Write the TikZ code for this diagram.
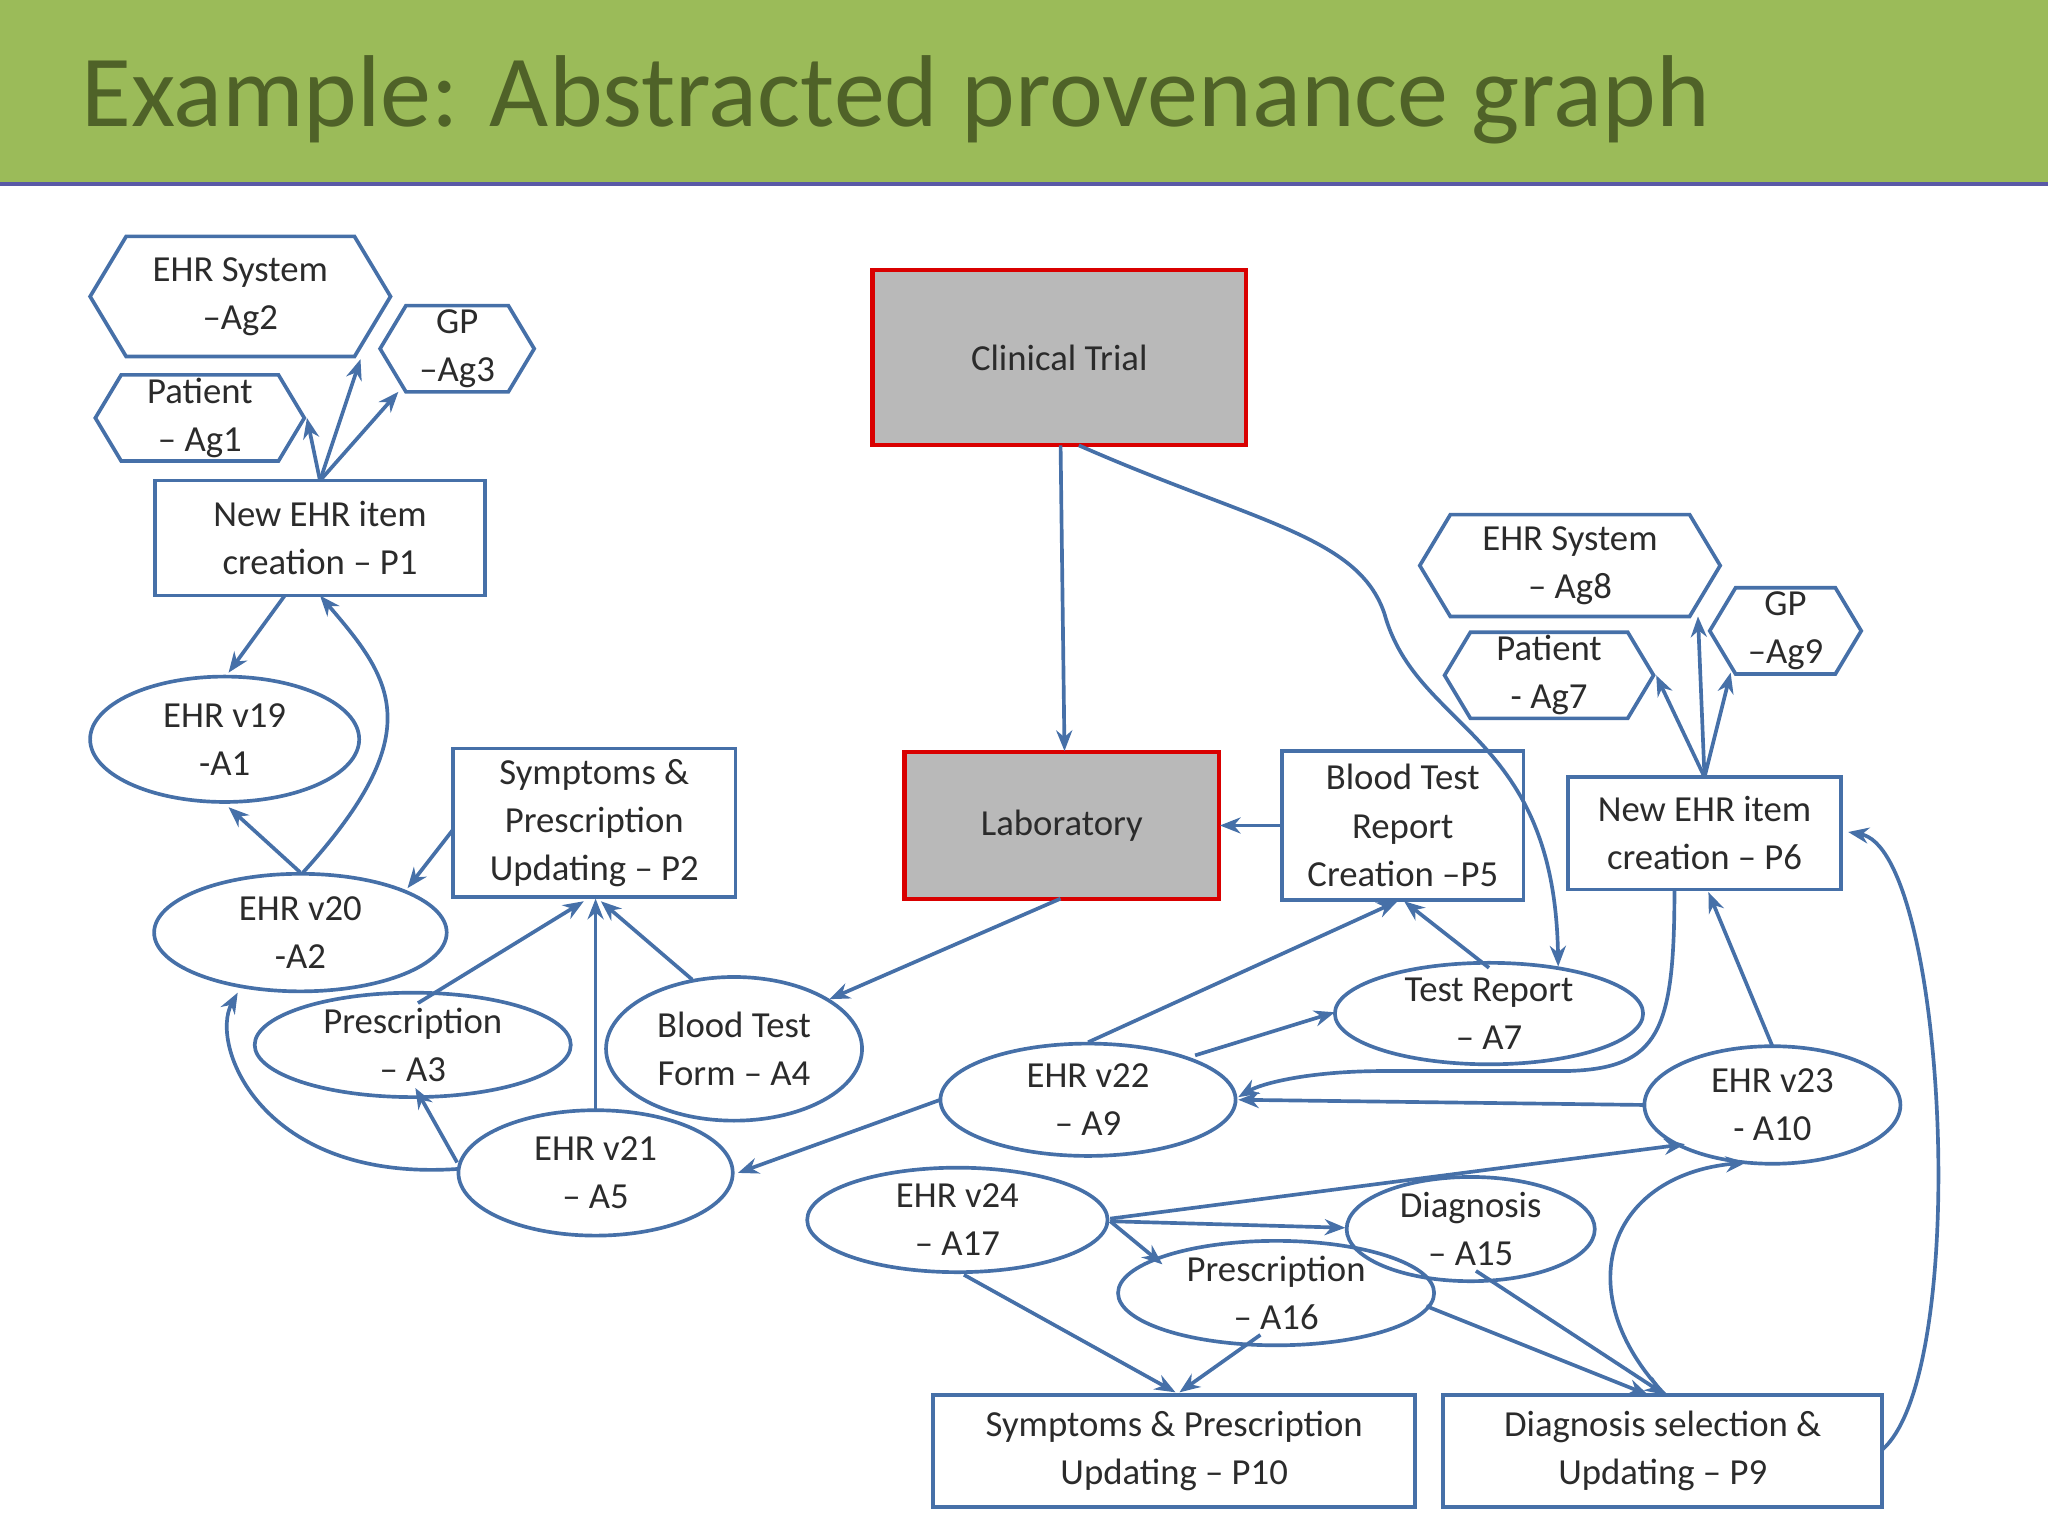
\documentclass[tikz,border=0pt]{standalone}
\usepackage{fontspec}
\setmainfont{Carlito}
\usetikzlibrary{arrows.meta,shapes.geometric,calc}
\definecolor{band}{HTML}{9BBB59}
\definecolor{ttl}{HTML}{4F6228}
\definecolor{lnc}{HTML}{4670A8}
\definecolor{tx}{HTML}{2B2B2B}
\newcommand{\hexa}[6]{%
 \node[minimum width=#4*0.02cm,minimum height=#5*0.02cm,inner sep=0] (#1) at (#2,#3) {#6};
 \draw[ln] ($(#2,#3)+(-#4/2,0)$) -- ($(#2,#3)+(-#4/2+#5*0.3,-#5/2)$) -- ($(#2,#3)+(#4/2-#5*0.3,-#5/2)$) -- ($(#2,#3)+(#4/2,0)$) -- ($(#2,#3)+(#4/2-#5*0.3,#5/2)$) -- ($(#2,#3)+(-#4/2+#5*0.3,#5/2)$) -- cycle;}
\begin{document}
\begin{tikzpicture}[x=0.02cm,y=-0.02cm,
  every node/.style={font=\fontsize{16}{21}\selectfont,text=tx,align=center},
  box/.style={draw=lnc,line width=1.6pt,rectangle,inner sep=0},
  redb/.style={draw=red!85!black,line width=1.8pt,fill=gray!55,rectangle,inner sep=0},
  ell/.style={draw=lnc,line width=1.6pt,ellipse,inner sep=0},
  arr/.style={draw=lnc,line width=1.6pt,-{Stealth[length=9pt,width=7pt,open]}},
  ln/.style={draw=lnc,line width=1.6pt}]
\useasboundingbox (0,0) rectangle (1568,1176);
\fill[band] (0,0) rectangle (1568,140);
\draw[line width=2pt,color=gray!70!blue] (0,141) -- (1568,141);
\node[anchor=base west,text=ttl,font=\fontsize{44.5}{50}\selectfont] (title) at (56,97) {Example: Abstracted provenance graph};
% agents
\hexa{ag2}{184}{227}{230}{92}{EHR System\\–Ag2}
\hexa{ag3}{350}{267}{118}{66}{GP\\–Ag3}
\hexa{ag1}{153}{320}{160}{66}{Patient\\– Ag1}
\hexa{ag8}{1202}{433}{230}{78}{EHR System\\– Ag8}
\hexa{ag9}{1367}{483}{116}{66}{GP\\–Ag9}
\hexa{ag7}{1186}{517}{160}{66}{Patient\\- Ag7}
% processes
\node[box,minimum width=253*0.02cm,minimum height=88*0.02cm] (p1) at (245,412) {New EHR item\\creation – P1};
\node[box,minimum width=216*0.02cm,minimum height=114*0.02cm] (p2) at (455,630) {Symptoms \&\\Prescription\\Updating – P2};
\node[box,minimum width=185*0.02cm,minimum height=114*0.02cm] (p5) at (1074,632) {Blood Test\\Report\\Creation –P5};
\node[box,minimum width=209*0.02cm,minimum height=86*0.02cm] (p6) at (1305,638) {New EHR item\\creation – P6};
\node[box,minimum width=369*0.02cm,minimum height=86*0.02cm] (p10) at (899,1111) {Symptoms \& Prescription\\Updating – P10};
\node[box,minimum width=336*0.02cm,minimum height=86*0.02cm] (p9) at (1273,1111) {Diagnosis selection \&\\Updating – P9};
\node[redb,minimum width=286*0.02cm,minimum height=134*0.02cm] (ct) at (811,274) {Clinical Trial};
\node[redb,minimum width=241*0.02cm,minimum height=113*0.02cm] (lab) at (813,632) {Laboratory};
% artifacts
\node[ell,minimum width=206*0.02cm,minimum height=96*0.02cm] (a1) at (172,566) {EHR v19\\-A1};
\node[ell,minimum width=224*0.02cm,minimum height=90*0.02cm] (a2) at (230,714) {EHR v20\\-A2};
\node[ell,minimum width=242*0.02cm,minimum height=64*0.02cm] (a3) at (316,800) {Prescription\\– A3};
\node[ell,minimum width=196*0.02cm,minimum height=110*0.02cm] (a4) at (562,803) {Blood Test\\Form – A4};
\node[ell,minimum width=210*0.02cm,minimum height=96*0.02cm] (a5) at (456,898) {EHR v21\\– A5};
\node[ell,minimum width=236*0.02cm,minimum height=70*0.02cm] (a7) at (1140,776) {Test Report\\– A7};
\node[ell,minimum width=226*0.02cm,minimum height=86*0.02cm] (a9) at (833,842) {EHR v22\\– A9};
\node[ell,minimum width=196*0.02cm,minimum height=90*0.02cm] (a10) at (1357,846) {EHR v23\\- A10};
\node[ell,minimum width=230*0.02cm,minimum height=80*0.02cm] (a17) at (733,934) {EHR v24\\– A17};
\node[ell,minimum width=190*0.02cm,minimum height=64*0.02cm] (a15) at (1126,941) {Diagnosis\\– A15};
\node[ell,minimum width=242*0.02cm,minimum height=64*0.02cm] (a16) at (977,990) {Prescription\\– A16};
% left cluster
\coordinate (p1t) at (245,368);
\draw[arr] (p1t) -- (235,320);
\draw[arr] (p1t) -- (276,275);
\draw[arr] (p1t) -- (305,300);
\draw[arr] (218,456) -- (175,515);
\draw[arr] (230,668) -- (175,618);
\draw[arr] (232,668) .. controls (330,560) and (300,520) .. (245,456);
\draw[arr] (347,635) -- (312,680);
\draw[arr] (320,768) -- (447,690);
\draw[arr] (456,850) -- (456,688);
\draw[arr] (530,750) -- (460,690);
\draw[arr] (350,890) -- (318,833);
\draw[arr] (350,895) .. controls (200,905) and (160,800) .. (182,760);
% center
\draw[arr] (812,341) -- (815,575);
\draw[arr] (826,341) .. controls (960,400) and (1040,410) .. (1060,470) .. controls (1085,560) and (1190,560) .. (1193,740);
\draw[arr] (812,688) -- (635,765);
\draw[arr] (982,632) -- (934,632);
\draw[arr] (833,798) -- (1070,690);
\draw[arr] (1140,741) -- (1075,690);
\draw[arr] (915,808) -- (1022,775);
\draw[arr] (720,842) -- (565,898);
% right cluster
\coordinate (p6t) at (1305,595);
\draw[arr] (p6t) -- (1268,517);
\draw[arr] (p6t) -- (1300,472);
\draw[arr] (p6t) -- (1325,515);
\draw[arr] (1282,681) .. controls (1282,790) and (1270,818) .. (1200,820) -- (1060,820) .. controls (1000,820) and (965,830) .. (948,840);
\draw[arr] (1260,846) -- (948,842);
\draw[arr] (1357,801) -- (1308,683);
\draw[arr] (850,933) -- (1290,876);
\draw[arr] (850,935) -- (1030,940);
\draw[arr] (850,935) -- (890,968);
\draw[arr] (738,976) -- (900,1066);
\draw[arr] (965,1022) -- (903,1066);
\draw[arr] (1130,973) -- (1275,1068);
\draw[arr] (1092,1000) -- (1262,1068);
\draw[arr] (1275,1068) .. controls (1200,990) and (1230,900) .. (1337,890);
\draw[arr] (1441,1110) .. controls (1510,1050) and (1490,650) .. (1415,637);
\end{tikzpicture}
\end{document}
